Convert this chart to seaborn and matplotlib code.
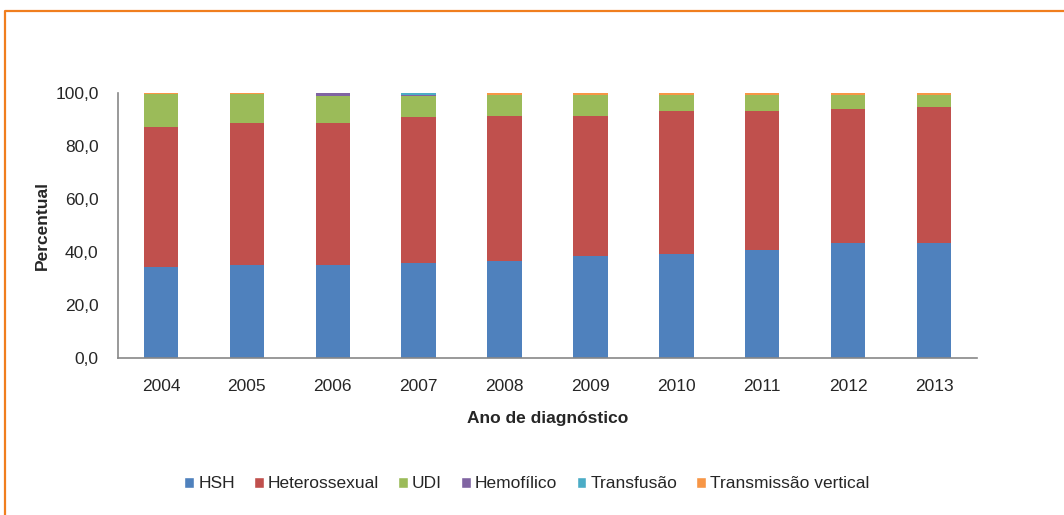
import numpy as np
import pandas as pd
import matplotlib
matplotlib.use("Agg")
import matplotlib.pyplot as plt
from matplotlib.patches import Patch
from matplotlib.lines import Line2D
import seaborn as sns

sns.set_style("white")
plt.rcParams["font.family"] = ["Liberation Sans", "DejaVu Sans"]

anos = ["2004", "2005", "2006", "2007", "2008", "2009", "2010", "2011", "2012", "2013"]
hsh = [34.2, 35.1, 35.1, 35.9, 36.6, 38.5, 39.2, 40.7, 43.3, 43.3]
heterossexual = [52.8, 53.6, 53.6, 54.9, 54.9, 53.0, 54.0, 52.5, 50.8, 51.6]
udi = [12.8, 11.1, 10.3, 8.2, 7.9, 7.9, 6.2, 6.2, 5.3, 4.5]
hemofilico = [0.0, 0.0, 0.9, 0.1, 0.0, 0.0, 0.0, 0.0, 0.0, 0.0]
transfusao = [0.0, 0.0, 0.0, 0.8, 0.0, 0.0, 0.0, 0.0, 0.0, 0.0]
vertical = [0.2, 0.2, 0.1, 0.1, 0.6, 0.6, 0.6, 0.6, 0.6, 0.6]

series = [
    ("HSH", hsh, "#4F81BD"),
    ("Heterossexual", heterossexual, "#C0504D"),
    ("UDI", udi, "#9BBB59"),
    ("Hemofílico", hemofilico, "#8064A2"),
    ("Transfusão", transfusao, "#4BACC6"),
    ("Transmissão vertical", vertical, "#F79646"),
]

fig = plt.figure(figsize=(10.64, 5.15), dpi=100)
ax = fig.add_axes([118 / 1064, 1 - 358 / 515, (977 - 118) / 1064, (358 - 93) / 515])

bottom = np.zeros(len(anos))
for nome, vals, cor in series:
    df = pd.DataFrame({"ano": anos, "valor": vals})
    sns.barplot(data=df, x="ano", y="valor", order=anos, color=cor, width=0.4,
                errorbar=None, bottom=bottom, saturation=1, linewidth=0, ax=ax)
    bottom = bottom + np.array(vals)

ax.set_xlim(-0.5, 9.5)
ax.set_ylim(0, 100)
ax.set_yticks(np.arange(0, 101, 20))
ax.set_yticklabels([f"{v:.1f}".replace(".", ",") for v in np.arange(0, 101, 20)])
ax.set_xticks(np.arange(-0.5, 10, 1), minor=True)
ax.tick_params(axis="x", which="major", length=0, labelsize=12.5, pad=15)
ax.tick_params(axis="x", which="minor", length=5, width=1, color="#888888", direction="out")
ax.tick_params(axis="y", length=6, width=1, color="#888888", direction="out", labelsize=12.5, pad=8)
for s in ["top", "right"]:
    ax.spines[s].set_visible(False)
for s in ["left", "bottom"]:
    ax.spines[s].set_color("#888888")
    ax.spines[s].set_linewidth(1.2)

ax.set_xlabel("Ano de diagnóstico", fontsize=12.5, fontweight="bold", labelpad=12)
ax.set_ylabel("Percentual", fontsize=12.5, fontweight="bold", labelpad=4)

handles = [Patch(facecolor=cor, label=nome) for nome, _, cor in series]
fig.legend(handles=handles, loc="center", bbox_to_anchor=(527 / 1064, 1 - 484 / 515),
           ncol=6, frameon=False, fontsize=12.5, handlelength=0.55, handleheight=0.55,
           handletextpad=0.25, columnspacing=1.1)

# moldura laranja
fig.add_artist(Line2D([4.5 / 1064, 4.5 / 1064, 1], [0, 1 - 10.5 / 515, 1 - 10.5 / 515],
                      transform=fig.transFigure, color="#F07E1E", linewidth=1.6))

fig.savefig("out.png", dpi=100)
